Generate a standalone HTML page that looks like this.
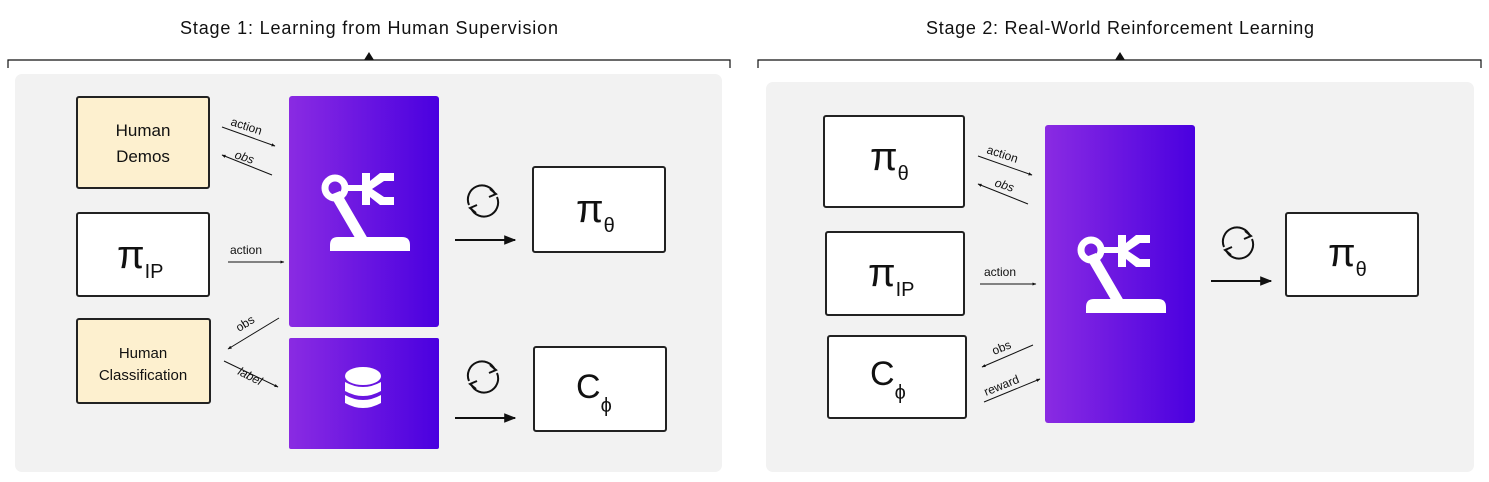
<!DOCTYPE html>
<html><head><meta charset="utf-8"><style>
body{margin:0;width:1489px;height:482px;background:#fff;overflow:hidden;font-family:"Liberation Sans",sans-serif}
svg{display:block}
.bx{stroke:#222;stroke-width:2}
.t{font-family:"Liberation Sans",sans-serif;fill:#111}
</style></head><body>
<svg width="1489" height="482" viewBox="0 0 1489 482">
<defs>
<linearGradient id="pg" x1="0" x2="1" y1="0" y2="0"><stop offset="0" stop-color="#8a2be2"/><stop offset="1" stop-color="#4a00e0"/></linearGradient>
<marker id="ah" viewBox="0 0 10 10" refX="9" refY="5" markerWidth="6" markerHeight="6" orient="auto"><path d="M0,1 L10,5 L0,9z" fill="#111"/></marker>
<marker id="ahb" viewBox="0 0 10 10" refX="9" refY="5" markerWidth="4" markerHeight="4" orient="auto"><path d="M0,1 L10,5 L0,9z" fill="#111"/></marker>
<g id="robot" fill="#fff">
<circle cx="-35" cy="-25" r="10" fill="none" stroke="#fff" stroke-width="7"/>
<rect x="-26" y="-28" width="20" height="6"/>
<path d="M-8,-40 h8 v8 l10,-8 h14 v8 h-10 l-12,8 l12,8 h10 v8 h-14 l-10,-8 v8 h-8z"/>
<path d="M-40,-18 l10,-4 l28,48 l-10,4z"/>
<path d="M-40,32 q0,-8 8,-8 h64 q8,0 8,8 v6 h-80z"/>
</g>
<g id="refresh" fill="none" stroke="#111" stroke-width="2">
<path d="M-14,4 A14,14 0 0 1 12,-7"/><path d="M14,-4 A14,14 0 0 1 -12,7"/>
<path d="M7,-12 l6,5 l-7,3" /><path d="M-7,12 l-6,-5 l7,-3"/>
</g>
</defs>

<!-- Stage 1 -->
<text class="t" x="369" y="34" font-size="18" text-anchor="middle" textLength="378">Stage 1: Learning from Human Supervision</text>
<path d="M8,68 V60 H730 V68" fill="none" stroke="#111" stroke-width="1.2"/>
<path d="M364,60 L369,52 L374,60z" fill="#111"/>
<rect x="15" y="74" width="707" height="398" rx="7" fill="#f2f2f2"/>

<rect class="bx" x="77" y="97" width="132" height="91" rx="2" fill="#fdf0cf"/>
<text class="t" x="143" y="136" font-size="17" text-anchor="middle">Human</text>
<text class="t" x="143" y="162" font-size="17" text-anchor="middle">Demos</text>

<rect class="bx" x="77" y="213" width="132" height="83" rx="2" fill="#fff"/>
<text class="t" x="117" y="268" font-size="40">π<tspan font-size="20" dy="10">IP</tspan></text>

<rect class="bx" x="77" y="319" width="133" height="84" rx="2" fill="#fdf0cf"/>
<text class="t" x="143" y="358" font-size="15" text-anchor="middle">Human</text>
<text class="t" x="143" y="380" font-size="15" text-anchor="middle">Classification</text>

<rect x="289" y="96" width="150" height="231" rx="3" fill="url(#pg)"/>
<use href="#robot" transform="translate(370,213)"/>
<rect x="289" y="338" width="150" height="111" rx="2" fill="url(#pg)"/>
<g fill="#fff">
<ellipse cx="363" cy="376" rx="18" ry="9"/>
<path d="M345,382 q18,10 36,0 v9 q-18,10 -36,0z"/>
<path d="M345,395 q18,10 36,0 v8 q-18,10 -36,0z"/>
</g>

<g stroke="#111" stroke-width="1" fill="none">
<line x1="222" y1="127" x2="275" y2="146" marker-end="url(#ahb)"/>
<line x1="272" y1="175" x2="222" y2="155" marker-end="url(#ahb)"/>
<line x1="228" y1="262" x2="284" y2="262" marker-end="url(#ahb)"/>
<line x1="279" y1="318" x2="228" y2="349" marker-end="url(#ahb)"/>
<line x1="224" y1="361" x2="278" y2="387" marker-end="url(#ahb)"/>
</g>
<text class="t" font-size="12" transform="translate(230,125) rotate(18)">action</text>
<text class="t" font-size="12" font-style="italic" transform="translate(234,158) rotate(18)">obs</text>
<text class="t" font-size="12" x="230" y="254">action</text>
<text class="t" font-size="12" transform="translate(239,332) rotate(-32)">obs</text>
<text class="t" font-size="12" font-style="italic" transform="translate(237,374) rotate(27)">label</text>

<use href="#refresh" transform="translate(483,201)"/>
<line x1="455" y1="240" x2="515" y2="240" stroke="#111" stroke-width="2" marker-end="url(#ah)"/>
<use href="#refresh" transform="translate(483,377)"/>
<line x1="455" y1="418" x2="515" y2="418" stroke="#111" stroke-width="2" marker-end="url(#ah)"/>

<rect class="bx" x="533" y="167" width="132" height="85" rx="2" fill="#fff"/>
<text class="t" x="576" y="222" font-size="40">π<tspan font-size="20" dy="10">θ</tspan></text>
<rect class="bx" x="534" y="347" width="132" height="84" rx="2" fill="#fff"/>
<text class="t" x="576" y="398" font-size="34">C<tspan font-size="20" dy="14">ϕ</tspan></text>

<!-- Stage 2 -->
<text class="t" x="1120" y="34" font-size="18" text-anchor="middle" textLength="388">Stage 2: Real-World Reinforcement Learning</text>
<path d="M758,68 V60 H1481 V68" fill="none" stroke="#111" stroke-width="1.2"/>
<path d="M1115,60 L1120,52 L1125,60z" fill="#111"/>
<rect x="766" y="82" width="708" height="390" rx="7" fill="#f2f2f2"/>

<rect class="bx" x="824" y="116" width="140" height="91" rx="2" fill="#fff"/>
<text class="t" x="870" y="170" font-size="40">π<tspan font-size="20" dy="10">θ</tspan></text>
<rect class="bx" x="826" y="232" width="138" height="83" rx="2" fill="#fff"/>
<text class="t" x="868" y="286" font-size="40">π<tspan font-size="20" dy="10">IP</tspan></text>
<rect class="bx" x="828" y="336" width="138" height="82" rx="2" fill="#fff"/>
<text class="t" x="870" y="385" font-size="34">C<tspan font-size="20" dy="14">ϕ</tspan></text>

<rect x="1045" y="125" width="150" height="298" rx="3" fill="url(#pg)"/>
<use href="#robot" transform="translate(1126,275)"/>

<g stroke="#111" stroke-width="1" fill="none">
<line x1="978" y1="156" x2="1032" y2="175" marker-end="url(#ahb)"/>
<line x1="1028" y1="204" x2="978" y2="184" marker-end="url(#ahb)"/>
<line x1="980" y1="284" x2="1036" y2="284" marker-end="url(#ahb)"/>
<line x1="1033" y1="345" x2="982" y2="367" marker-end="url(#ahb)"/>
<line x1="984" y1="402" x2="1040" y2="379" marker-end="url(#ahb)"/>
</g>
<text class="t" font-size="12" transform="translate(986,153) rotate(18)">action</text>
<text class="t" font-size="12" font-style="italic" transform="translate(994,186) rotate(18)">obs</text>
<text class="t" font-size="12" x="984" y="276">action</text>
<text class="t" font-size="12" transform="translate(994,355) rotate(-22)">obs</text>
<text class="t" font-size="12" transform="translate(986,396) rotate(-22)">reward</text>

<use href="#refresh" transform="translate(1238,243)"/>
<line x1="1211" y1="281" x2="1271" y2="281" stroke="#111" stroke-width="2" marker-end="url(#ah)"/>
<rect class="bx" x="1286" y="213" width="132" height="83" rx="2" fill="#fff"/>
<text class="t" x="1328" y="266" font-size="40">π<tspan font-size="20" dy="10">θ</tspan></text>
</svg>
</body></html>
